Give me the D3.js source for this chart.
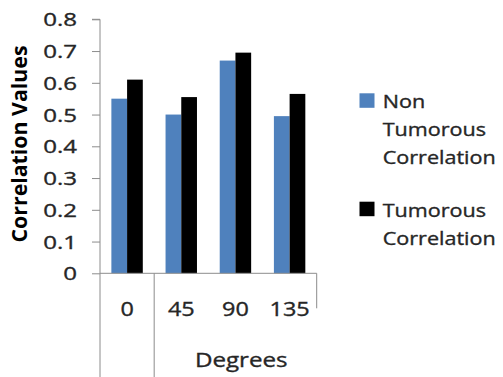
<!DOCTYPE html>
<html>
<head>
<meta charset="utf-8">
<script src="https://cdn.jsdelivr.net/npm/d3@7"></script>
<style>
  html, body { margin: 0; padding: 0; background: #fff; }
  svg { display: block; }
  text { font-family: "Open Sans", "Noto Sans", sans-serif; fill: #262626; stroke: #262626; stroke-width: 0.35px; }
</style>
</head>
<body>
<svg id="chart" width="503" height="377"></svg>
<script>
// Angle categories and the two correlation series
const degrees = ["0", "45", "90", "135"];
const seriesNames = ["Non Tumorous Correlation", "Tumorous Correlation"];
const nonTumorous = [0.55, 0.50, 0.67, 0.495];
const tumorous = [0.61, 0.555, 0.695, 0.565];
const yTicks = [0, 0.1, 0.2, 0.3, 0.4, 0.5, 0.6, 0.7, 0.8];
const groupLabel = "Degrees";
const yTitle = "Correlation Values";
const legendLines = [["Non", "Tumorous", "Correlation"], ["Tumorous", "Correlation"]];
const colors = ["#4f81bd", "#000000"];

const svg = d3.select("#chart");
const axisColor = "#8c8c8c";

const plotLeft = 100, plotRight = 316.7, plotTop = 19.3, plotBottom = 273.3;

const x = d3.scaleBand().domain(degrees).range([plotLeft, plotRight])
  .paddingInner(0.42).paddingOuter(0.21);
const xs = d3.scaleBand().domain(seriesNames).range([0, x.bandwidth()]);
const y = d3.scaleLinear().domain([0, 0.8]).range([plotBottom, plotTop]);

// stretch a text element horizontally by factor k (or to a fixed length)
function stretch(sel, k, fixed) {
  sel.each(function () {
    const w = fixed || this.getComputedTextLength() * k;
    d3.select(this).attr("textLength", w).attr("lengthAdjust", "spacingAndGlyphs");
  });
}

// Bars
const rows = degrees.map((d, i) => ({ cat: d, vals: [nonTumorous[i], tumorous[i]] }));
const groups = svg.append("g").selectAll("g").data(rows).join("g")
  .attr("transform", d => `translate(${x(d.cat)},0)`);
groups.selectAll("rect")
  .data(d => d.vals.map((v, j) => ({ name: seriesNames[j], v, j })))
  .join("rect")
  .attr("x", d => xs(d.name))
  .attr("width", xs.bandwidth())
  .attr("y", d => y(d.v))
  .attr("height", d => y(0) - y(d.v))
  .attr("fill", d => colors[d.j]);

// Y axis
const yAxis = d3.axisLeft(y).tickValues(yTicks).tickSize(8).tickPadding(14)
  .tickFormat(d => d === 0 ? "0" : d3.format(".1f")(d));
const yg = svg.append("g").attr("transform", `translate(${plotLeft},0)`).call(yAxis);
yg.select(".domain").attr("stroke", axisColor).attr("d", `M-8,${plotTop}H0V${plotBottom}`);
yg.selectAll(".tick line").attr("stroke", axisColor);
yg.selectAll(".tick text")
  .attr("font-family", "Open Sans").attr("font-size", 18.5).attr("fill", "#262626")
  .attr("dy", "0.36em").attr("x", -23)
  .call(stretch, 1.3);

// X axis (category level)
const xAxis = d3.axisBottom(x).tickSize(0).tickPadding(0);
const xg = svg.append("g").attr("transform", `translate(0,${plotBottom})`).call(xAxis);
xg.select(".domain").attr("stroke", axisColor).attr("d", `M${plotLeft},0H${plotRight}`);
xg.selectAll(".tick text")
  .attr("font-family", "Open Sans").attr("font-size", 19.5).attr("fill", "#262626")
  .attr("y", 42.5).attr("dy", 0)
  .call(stretch, 1.2);

// Multi-level category dividers
const lvl1 = plotBottom + 35;
const divider = svg.append("g").attr("stroke", axisColor).attr("stroke-width", 1);
const groupStart = x("45") - x.step() * x.paddingInner() / 2;
divider.append("line").attr("x1", plotLeft).attr("x2", plotLeft).attr("y1", plotBottom).attr("y2", 377);
divider.append("line").attr("x1", groupStart).attr("x2", groupStart).attr("y1", plotBottom).attr("y2", 377);
divider.append("line").attr("x1", plotRight).attr("x2", plotRight).attr("y1", plotBottom).attr("y2", lvl1);

// Group label
svg.append("text").attr("x", 241.3).attr("y", 367.3)
  .attr("text-anchor", "middle").attr("font-size", 20).text(groupLabel)
  .call(stretch, 1, 92.7);

// Y axis title
svg.append("text")
  .attr("transform", `translate(26.7,144) rotate(-90)`)
  .attr("text-anchor", "middle").attr("font-weight", "bold").attr("font-size", 22)
  .style("fill", "#000").style("stroke", "none").text(yTitle)
  .call(stretch, 1, 197);

// Legend
const legendTops = [93.3, 201.7];
const legend = svg.append("g");
legendLines.forEach((lines, i) => {
  legend.append("rect").attr("x", 359.5).attr("y", legendTops[i])
    .attr("width", 15).attr("height", 14.5).attr("fill", colors[i]);
  lines.forEach((t, k) => {
    legend.append("text").attr("x", 382.7).attr("y", legendTops[i] + 15 + k * 27.8)
      .attr("font-size", 18.6).text(t)
      .call(stretch, 1.16);
  });
});
</script>
</body>
</html>
